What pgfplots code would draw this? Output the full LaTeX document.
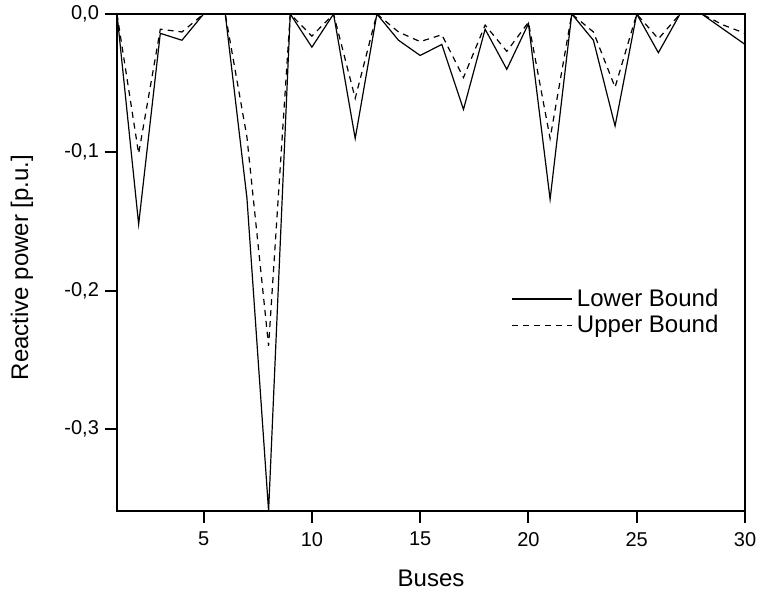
\documentclass[border=0pt]{standalone}
\usepackage{fontspec}
\setmainfont{Liberation Sans}
\usepackage{pgfplots}
\pgfplotsset{compat=1.18}
\begin{document}
\begin{tikzpicture}
\useasboundingbox (-58.5pt,-40.5pt) rectangle (321pt,255.5pt);
\begin{axis}[
  at={(0,0)}, anchor=south west,
  scale only axis, width=314pt, height=248.5pt,
  xmin=1, xmax=30, ymin=-0.3594, ymax=0,
  xtick={5,10,15,20,25,30},
  ytick={0,-0.1,-0.2,-0.3},
  tick pos=left, tick align=outside,
  major tick length=6pt,
  every tick/.style={black, line width=1pt},
  axis line style={line width=1pt},
  minor tick num=0,
  ticklabel style={font=\fontsize{10}{12}\selectfont},
  xticklabel style={yshift=-1pt},
  yticklabel style={xshift=0.5pt},
  yticklabel style={/pgf/number format/.cd, fixed, fixed zerofill, precision=1, use comma, assume math mode=true},
  xticklabel style={/pgf/number format/assume math mode=true},
  xlabel={Buses}, ylabel={Reactive power [p.u.]},
  label style={font=\fontsize{12}{14}\selectfont},
  xlabel style={at={([yshift=-33.5pt]axis description cs:0.5,0)}, anchor=center},
  ylabel style={at={([xshift=-47.5pt]axis description cs:0,0.49)}, anchor=center},
  legend style={draw=none, fill=none, at={(axis description cs:0.628,0.40)}, anchor=west,
    font=\fontsize{12}{14}\selectfont, row sep=-1pt, inner sep=0pt},
  legend cell align=left,
  legend image code/.code={\draw[#1] (0pt,0pt) -- (27pt,0pt); \path (0pt,0pt) -- (30pt,0pt);},
]
\addplot[black, line width=0.6pt, line join=miter] coordinates {
(1,0) (2,-0.152) (3,-0.014) (4,-0.019) (5,0) (6,0) (7,-0.133) (8,-0.3594) (9,0) (10,-0.024)
(11,0) (12,-0.090) (13,0) (14,-0.019) (15,-0.030) (16,-0.022) (17,-0.069) (18,-0.011) (19,-0.040) (20,-0.007)
(21,-0.134) (22,0) (23,-0.019) (24,-0.081) (25,0) (26,-0.028) (27,0) (28,0) (29,-0.011) (30,-0.022)
};
\addlegendentry{Lower Bound}
\addplot[black, line width=0.6pt, dash pattern=on 3pt off 2.5pt] coordinates {
(1,0) (2,-0.101) (3,-0.011) (4,-0.013) (5,0) (6,0) (7,-0.089) (8,-0.240) (9,0) (10,-0.016)
(11,0) (12,-0.061) (13,0) (14,-0.013) (15,-0.020) (16,-0.015) (17,-0.046) (18,-0.008) (19,-0.027) (20,-0.006)
(21,-0.090) (22,0) (23,-0.013) (24,-0.053) (25,0) (26,-0.018) (27,0) (28,0) (29,-0.008) (30,-0.014)
};
\addlegendentry{Upper Bound}
\end{axis}
\end{tikzpicture}
\end{document}
